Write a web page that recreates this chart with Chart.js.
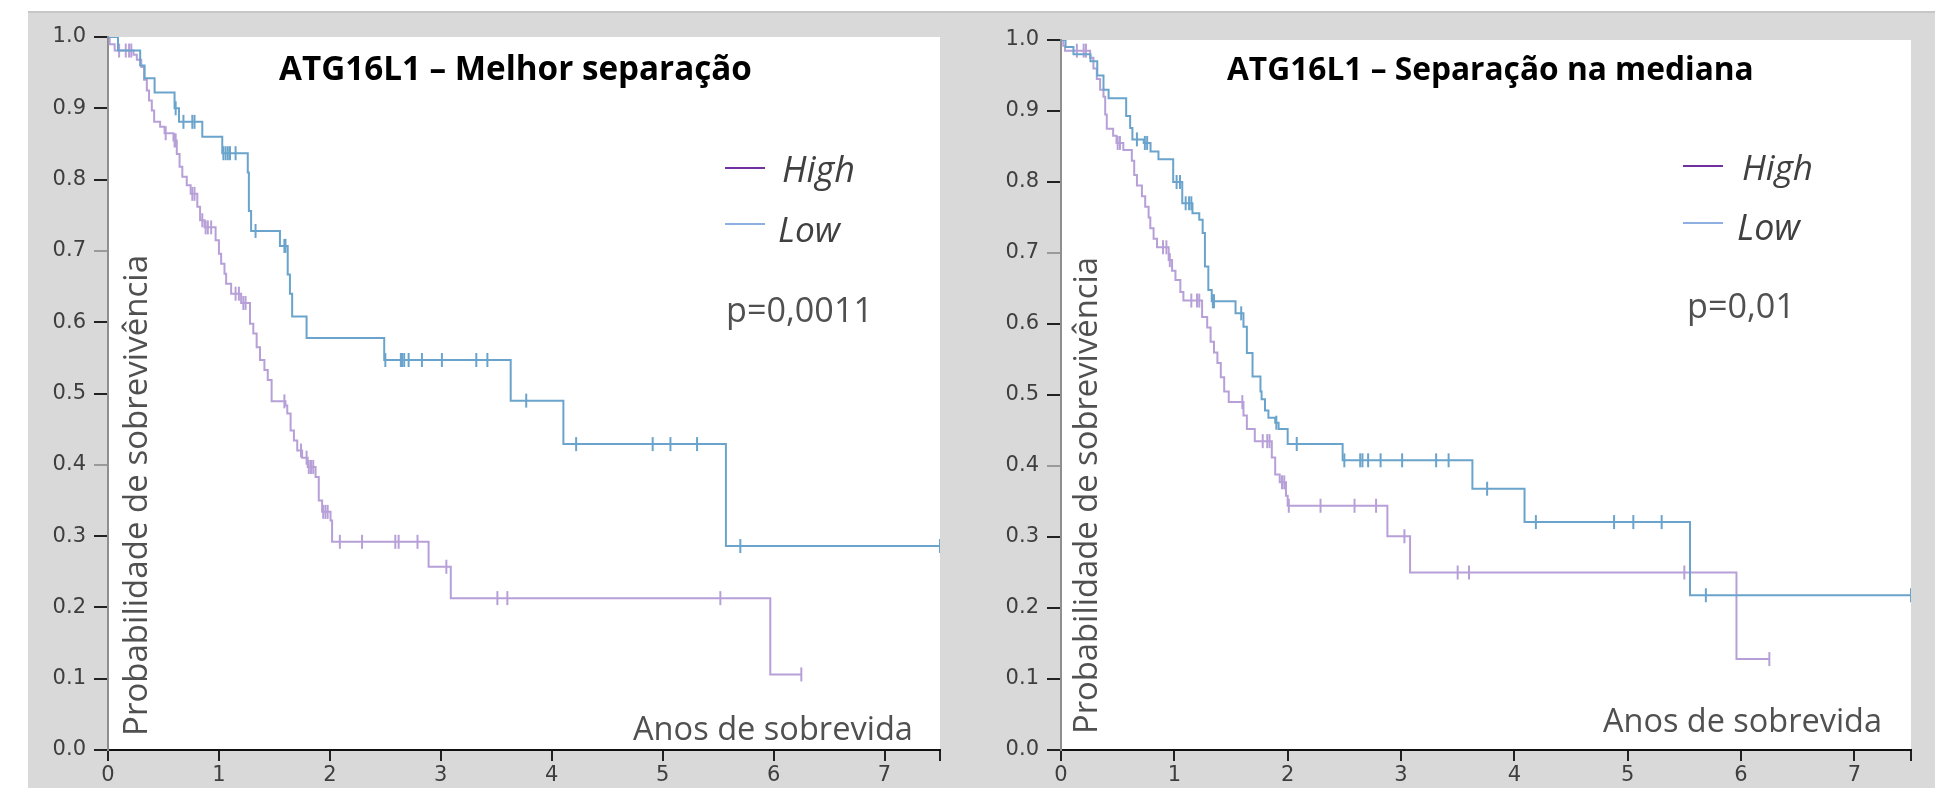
<!DOCTYPE html>
<html>
<head>
<meta charset="utf-8">
<script src="https://cdn.jsdelivr.net/npm/chart.js@4.4.1/dist/chart.umd.min.js"></script>
<style>
  body { margin: 0; background: #fff; width: 1954px; height: 788px; overflow: hidden; }
  #bg { position: absolute; left: 28px; top: 11px; width: 1907px; height: 777px; background: #d9d9d9; border-top: 2px solid #c6c6c6; box-sizing: border-box; }
  canvas { position: absolute; }
</style>
</head>
<body>
<div id="bg"></div>
<canvas id="leftChart" width="932" height="777" style="left:28px;top:11px;width:932px;height:777px"></canvas>
<canvas id="rightChart" width="975" height="777" style="left:960px;top:11px;width:975px;height:777px"></canvas>
<script>
// tick values
const xTickValues = [0, 1, 2, 3, 4, 5, 6, 7, 7.5];
const yTickValues = [0, 0.1, 0.2, 0.3, 0.4, 0.5, 0.6, 0.7, 0.8, 0.9, 1.0];

// left panel - "Melhor separação"
const leftHighTime = [0, 0.015, 0.06, 0.23, 0.26, 0.30, 0.325, 0.35, 0.37, 0.395, 0.416, 0.47, 0.51, 0.59, 0.62, 0.645, 0.67, 0.71, 0.745, 0.805, 0.83, 0.87, 0.97, 1.00, 1.02, 1.05, 1.065, 1.11, 1.20, 1.28, 1.31, 1.34, 1.37, 1.41, 1.44, 1.475, 1.60, 1.616, 1.646, 1.676, 1.706, 1.75, 1.80, 1.871, 1.90, 1.93, 2.006, 2.02, 2.89, 3.09, 5.97, 6.25];
const leftHighSurv = [1.0, 0.99, 0.981, 0.975, 0.968, 0.958, 0.94, 0.925, 0.911, 0.897, 0.881, 0.874, 0.865, 0.855, 0.836, 0.818, 0.804, 0.792, 0.78, 0.762, 0.743, 0.733, 0.715, 0.696, 0.682, 0.668, 0.654, 0.64, 0.627, 0.598, 0.584, 0.565, 0.547, 0.533, 0.519, 0.489, 0.483, 0.472, 0.448, 0.434, 0.42, 0.41, 0.397, 0.383, 0.35, 0.334, 0.322, 0.292, 0.257, 0.213, 0.106, 0.106];
const leftHighCens = [0.1, 0.16, 0.19, 0.21, 0.52, 0.6, 0.61, 0.76, 0.78, 0.85, 0.88, 0.9, 0.93, 1.15, 1.18, 1.22, 1.24, 1.59, 1.74, 1.79, 1.81, 1.83, 1.85, 1.94, 1.96, 1.98, 2.09, 2.29, 2.59, 2.62, 2.79, 3.05, 3.51, 3.6, 5.52, 6.25];

const leftLowTime = [0, 0.09, 0.29, 0.33, 0.42, 0.60, 0.64, 0.85, 1.03, 1.26, 1.27, 1.29, 1.55, 1.62, 1.64, 1.66, 1.79, 2.49, 3.63, 4.105, 5.57, 7.5];
const leftLowSurv = [1.0, 0.981, 0.96, 0.942, 0.922, 0.90, 0.881, 0.86, 0.837, 0.81, 0.756, 0.728, 0.707, 0.667, 0.64, 0.608, 0.578, 0.547, 0.49, 0.429, 0.286, 0.286];
const leftLowCens = [0.61, 0.68, 0.76, 0.78, 1.04, 1.06, 1.08, 1.10, 1.15, 1.33, 1.59, 1.60, 2.50, 2.64, 2.65, 2.67, 2.71, 2.83, 3.01, 3.32, 3.42, 3.77, 4.22, 4.91, 5.07, 5.31, 5.70, 7.5];

// right panel - "Separação na mediana"
const rightHighTime = [0, 0.02, 0.035, 0.257, 0.286, 0.316, 0.345, 0.375, 0.39, 0.404, 0.46, 0.49, 0.55, 0.625, 0.646, 0.67, 0.714, 0.743, 0.773, 0.788, 0.817, 0.847, 0.95, 0.98, 1.01, 1.053, 1.08, 1.245, 1.29, 1.32, 1.35, 1.38, 1.41, 1.44, 1.48, 1.61, 1.64, 1.71, 1.86, 1.89, 1.93, 1.985, 2.0, 2.88, 3.08, 5.96, 6.25];
const rightHighSurv = [1.0, 0.992, 0.985, 0.975, 0.96, 0.945, 0.93, 0.92, 0.895, 0.875, 0.865, 0.855, 0.845, 0.83, 0.81, 0.795, 0.78, 0.765, 0.75, 0.735, 0.72, 0.708, 0.69, 0.675, 0.662, 0.645, 0.633, 0.61, 0.595, 0.575, 0.56, 0.545, 0.525, 0.505, 0.49, 0.471, 0.452, 0.435, 0.412, 0.388, 0.377, 0.358, 0.344, 0.301, 0.25, 0.128, 0.128];
const rightHighCens = [0.14, 0.2, 0.22, 0.5, 0.52, 0.9, 0.93, 0.96, 1.15, 1.2, 1.22, 1.6, 1.78, 1.82, 1.84, 1.95, 1.97, 2.01, 2.29, 2.59, 2.78, 3.03, 3.5, 3.6, 5.5, 6.25];

const rightLowTime = [0, 0.04, 0.11, 0.26, 0.32, 0.375, 0.42, 0.575, 0.61, 0.63, 0.73, 0.79, 0.86, 0.99, 1.07, 1.16, 1.22, 1.25, 1.27, 1.30, 1.33, 1.54, 1.61, 1.64, 1.69, 1.76, 1.77, 1.80, 1.83, 1.89, 1.92, 2.0, 2.485, 3.63, 4.09, 5.55, 7.5];
const rightLowSurv = [1.0, 0.99, 0.98, 0.97, 0.95, 0.93, 0.918, 0.893, 0.876, 0.86, 0.855, 0.843, 0.832, 0.80, 0.77, 0.756, 0.747, 0.728, 0.681, 0.648, 0.632, 0.615, 0.596, 0.559, 0.526, 0.505, 0.494, 0.478, 0.468, 0.461, 0.452, 0.431, 0.408, 0.368, 0.321, 0.218, 0.218];
const rightLowCens = [0.67, 0.74, 0.76, 1.02, 1.05, 1.1, 1.13, 1.15, 1.34, 1.35, 1.59, 1.9, 2.08, 2.5, 2.64, 2.66, 2.71, 2.82, 3.01, 3.31, 3.42, 3.76, 4.19, 4.88, 5.05, 5.30, 5.69, 7.5];

const highColor = '#b7a0d8';
const lowColor = '#6aa4cc';

function kmPoints(times, surv) {
  return times.map((t, i) => ({ x: t, y: surv[i] }));
}

// censor marks sit on the curve at their time
function censorPoints(times, surv, cens) {
  return cens.map(c => {
    let s = surv[0];
    for (let i = 0; i < times.length; i++) if (times[i] <= c) s = surv[i];
    return { x: c, y: s };
  });
}

function fitFont(ctx, text, width, style) {
  ctx.font = style + ' 100px "Open Sans"';
  const size = 100 * width / ctx.measureText(text).width;
  ctx.font = style + ' ' + size.toFixed(2) + 'px "Open Sans"';
}

// labels in page coordinates, drawn on top of each chart
const textPlugin = {
  id: 'texts',
  beforeDraw(chart) {
    const { ctx, chartArea: a } = chart;
    ctx.save();
    ctx.fillStyle = '#fff';
    ctx.fillRect(a.left, a.top, a.right - a.left, a.bottom - a.top);
    ctx.restore();
  },
  afterDraw(chart, args, opts) {
    const ctx = chart.ctx;
    const ox = opts.ox, oy = opts.oy;
    ctx.save();
    ctx.textBaseline = 'alphabetic';
    ctx.textAlign = 'left';
    opts.items.forEach(it => {
      fitFont(ctx, it.text, it.w, it.style);
      ctx.fillStyle = it.color;
      if (it.rotate) {
        ctx.save();
        ctx.translate(it.x - ox, it.y - oy);
        ctx.rotate(-Math.PI / 2);
        ctx.fillText(it.text, 0, 0);
        ctx.restore();
      } else {
        ctx.fillText(it.text, it.x - ox, it.y - oy);
      }
    });
    opts.lines.forEach(l => {
      ctx.strokeStyle = l.color;
      ctx.lineWidth = 2;
      ctx.beginPath();
      ctx.moveTo(l.x1 - ox, l.y - oy);
      ctx.lineTo(l.x2 - ox, l.y - oy);
      ctx.stroke();
    });
    ctx.restore();
  }
};

function makeChart(id, d, layout) {
  const ctx = document.getElementById(id).getContext('2d');
  return new Chart(ctx, {
    type: 'line',
    data: {
      datasets: [
        { label: 'Low', data: kmPoints(d.lowT, d.lowS), stepped: 'before', borderColor: lowColor, borderWidth: 2, pointRadius: 0, fill: false },
        { label: 'High', data: kmPoints(d.highT, d.highS), stepped: 'before', borderColor: highColor, borderWidth: 2, pointRadius: 0, fill: false },
        { label: 'Low censored', data: censorPoints(d.lowT, d.lowS, d.lowC), showLine: false, pointStyle: 'line', rotation: 90, pointRadius: 7, borderColor: lowColor, borderWidth: 2 },
        { label: 'High censored', data: censorPoints(d.highT, d.highS, d.highC), showLine: false, pointStyle: 'line', rotation: 90, pointRadius: 7, borderColor: highColor, borderWidth: 2 }
      ]
    },
    options: {
      responsive: false,
      animation: false,
      devicePixelRatio: 1,
      layout: { padding: { top: layout.top, right: layout.right, left: 0, bottom: 0 } },
      plugins: {
        legend: { display: false },
        tooltip: { enabled: false },
        texts: layout.texts
      },
      scales: {
        x: {
          type: 'linear', min: 0, max: 7.5,
          afterBuildTicks: s => { s.ticks = xTickValues.map(v => ({ value: v })); },
          afterFit: s => { s.height = layout.xHeight; },
          border: { color: '#111', width: 2 },
          grid: { drawOnChartArea: false, drawTicks: true, tickLength: 11, color: '#222', lineWidth: 2 },
          ticks: { padding: 2, color: '#3e3e3e', font: { family: 'DejaVu Sans', size: 21 },
            callback: v => Number.isInteger(v) ? String(v) : '' }
        },
        y: {
          min: 0, max: 1,
          afterBuildTicks: s => { s.ticks = yTickValues.map(v => ({ value: v })); },
          afterFit: s => { s.width = layout.yWidth; },
          border: { color: '#8f8f8f', width: 2 },
          grid: { drawOnChartArea: false, drawTicks: true, tickLength: 14, lineWidth: 2,
            color: c => (c.index === 4 || c.index === 7) ? '#9a9a9a' : '#222' },
          ticks: { padding: 8, color: '#3e3e3e', font: { family: 'DejaVu Sans', size: 21 },
            callback: v => v.toFixed(1) }
        }
      }
    },
    plugins: [textPlugin]
  });
}

makeChart('leftChart',
  { highT: leftHighTime, highS: leftHighSurv, highC: leftHighCens, lowT: leftLowTime, lowS: leftLowSurv, lowC: leftLowCens },
  { top: 26, right: 20, xHeight: 38, yWidth: 80,
    texts: { ox: 28, oy: 11,
      items: [
        { text: 'ATG16L1 – Melhor separação', x: 279, y: 80, w: 473, style: 'bold', color: '#000' },
        { text: 'High', x: 782, y: 182, w: 73, style: 'italic', color: '#404040' },
        { text: 'Low', x: 778, y: 242, w: 62, style: 'italic', color: '#404040' },
        { text: 'p=0,0011', x: 726, y: 322, w: 147, style: 'normal', color: '#505050' },
        { text: 'Anos de sobrevida', x: 633, y: 740, w: 280, style: 'normal', color: '#505050' },
        { text: 'Probabilidade de sobrevivência', x: 147, y: 736, w: 481, style: 'normal', color: '#505050', rotate: true }
      ],
      lines: [
        { x1: 725, x2: 765, y: 168, color: '#7030a0' },
        { x1: 725, x2: 765, y: 224, color: '#8eb0e0' }
      ] } });

makeChart('rightChart',
  { highT: rightHighTime, highS: rightHighSurv, highC: rightHighCens, lowT: rightLowTime, lowS: rightLowSurv, lowC: rightLowCens },
  { top: 29, right: 24, xHeight: 38, yWidth: 101,
    texts: { ox: 960, oy: 11,
      items: [
        { text: 'ATG16L1 – Separação na mediana', x: 1227, y: 80, w: 527, style: 'bold', color: '#000' },
        { text: 'High', x: 1742, y: 180, w: 71, style: 'italic', color: '#404040' },
        { text: 'Low', x: 1737, y: 240, w: 63, style: 'italic', color: '#404040' },
        { text: 'p=0,01', x: 1687, y: 318, w: 108, style: 'normal', color: '#505050' },
        { text: 'Anos de sobrevida', x: 1603, y: 732, w: 279, style: 'normal', color: '#505050' },
        { text: 'Probabilidade de sobrevivência', x: 1097, y: 734, w: 477, style: 'normal', color: '#505050', rotate: true }
      ],
      lines: [
        { x1: 1683, x2: 1723, y: 166, color: '#7030a0' },
        { x1: 1683, x2: 1723, y: 223, color: '#8eb0e0' }
      ] } });
</script>
</body>
</html>
